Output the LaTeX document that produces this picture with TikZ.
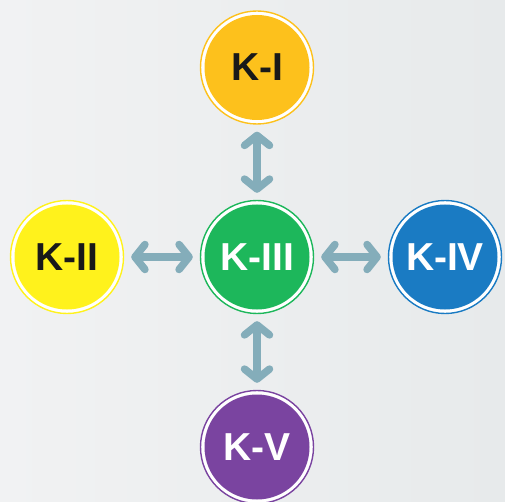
\documentclass[tikz,border=0pt]{standalone}
\usepackage{fontspec}
\setmainfont{Liberation Sans}
\usetikzlibrary{arrows.meta}
\definecolor{bgA}{HTML}{F1F2F3}
\definecolor{bgB}{HTML}{E7EAEB}
\definecolor{cI}{HTML}{FDC11C}
\definecolor{cII}{HTML}{FFF21C}
\definecolor{cIII}{HTML}{1DB75B}
\definecolor{cIV}{HTML}{1A7BC3}
\definecolor{cV}{HTML}{7A44A0}
\definecolor{arr}{HTML}{84ADBA}
\tikzset{
  disk/.style={circle, inner sep=0pt, minimum size=113pt, draw=#1, line width=1.4pt, fill=white,
    path picture={\fill[#1] (path picture bounding box.center) circle (52.5pt);}},
  lbl/.style={font=\fontsize{39}{39}\selectfont\bfseries, text=#1, inner sep=0pt},
  link/.style={arr, line width=8pt, shorten <=7pt, shorten >=7pt,
    {Straight Barb[length=10pt,width=25pt,line width=7.5pt,round]}-{Straight Barb[length=10pt,width=25pt,line width=7.5pt,round]}}
}
\begin{document}
\begin{tikzpicture}[x=1pt,y=-1pt]
\useasboundingbox (0,0) rectangle (505,502);
\clip (0,0) rectangle (505,502);
\shade[left color=bgA, right color=bgB] (0,0) rectangle (505,502);
% circles
\node[disk=cI]   (k1) at (257,67.5) {};
\node[disk=cII]  (k2) at (67,257) {};
\node[disk=cIII] (k3) at (257,257) {};
\node[disk=cIV]  (k4) at (445,257) {};
\node[disk=cV]   (k5) at (257,447) {};
% labels
\node[lbl=black!90] (t1) at (k1) {K-I};
\node[lbl=black!90] (t2) at (k2) {K-II};
\node[lbl=white]    (t3) at (k3) {K-III};
\node[lbl=white]    (t4) at (k4) {K-IV};
\node[lbl=white]    (t5) at (k5) {K-V};
% connectors
\draw[link] (k1) -- (k3);
\draw[link] (k2) -- (k3);
\draw[link] (k3) -- (k4);
\draw[link] (k3) -- (k5);
\end{tikzpicture}
\end{document}
